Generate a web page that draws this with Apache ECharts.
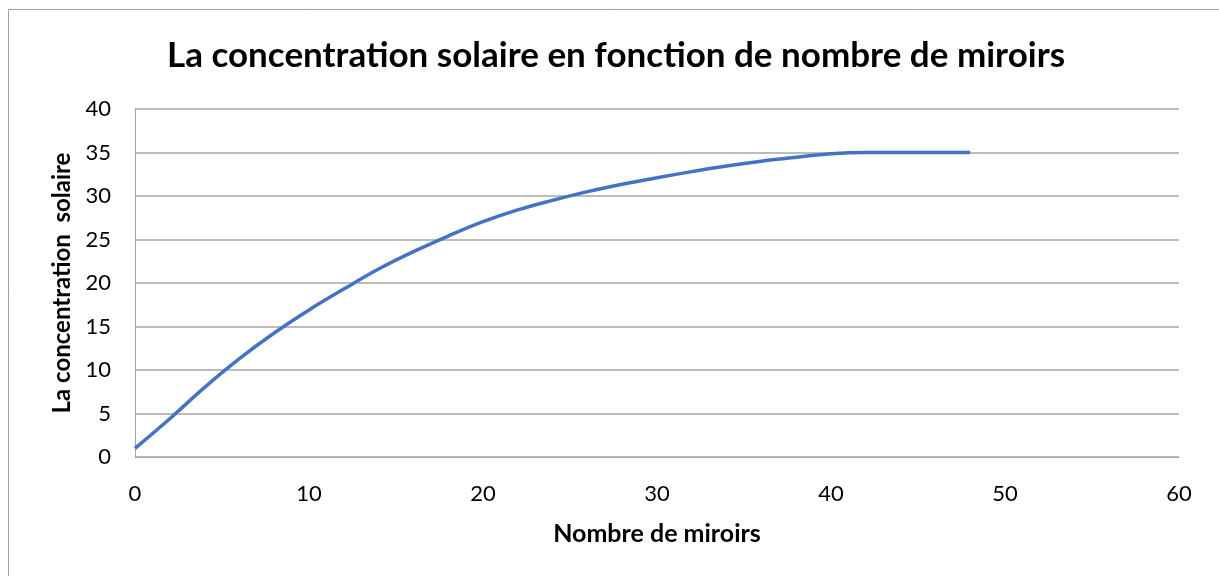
<!DOCTYPE html>
<html>
<head>
<meta charset="utf-8">
<script src="https://cdn.jsdelivr.net/npm/echarts@6/dist/echarts.min.js"></script>
<style>
  html, body { margin: 0; padding: 0; background: #ffffff; }
  #chart { width: 1219px; height: 576px; }
</style>
</head>
<body>
<div id="chart"></div>
<script>
// Nombre de miroirs (x) et concentration solaire (y)
const nombreMiroirs = [0, 2, 4, 6, 8, 10, 12, 14, 16, 18, 20, 22, 24, 26, 28, 30, 32, 34, 36, 38, 40, 42, 43, 44, 46, 48];
const concentration = [1, 4.4, 8.0, 11.3, 14.25, 16.9, 19.3, 21.6, 23.6, 25.4, 27.05, 28.4, 29.5, 30.5, 31.35, 32.1, 32.8, 33.45, 34.0, 34.45, 34.85, 35.0, 35, 35, 35, 35];
const titre = 'La concentration solaire en fonction de nombre de miroirs';
const titreX = 'Nombre de miroirs';
const titreY = 'La concentration  solaire';

const points = nombreMiroirs.map((x, i) => [x, concentration[i]]);

const FONT = 'Lato, "Open Sans", sans-serif';
const GRID_COLOR = '#a6a6a6';

const chart = echarts.init(document.getElementById('chart'), null, { renderer: 'canvas' });
chart.setOption({
  backgroundColor: '#ffffff',
  animation: false,
  title: {
    text: titre,
    left: 616,
    textAlign: 'center',
    top: 38,
    padding: 0,
    textStyle: { fontFamily: FONT, fontWeight: 'bold', fontSize: 35, color: '#000000' }
  },
  graphic: [{
    type: 'rect',
    shape: { x: 8.5, y: 9.5, width: 1300, height: 700 },
    style: { fill: 'none', stroke: '#a0a0a0', lineWidth: 1 },
    silent: true
  }],
  grid: { left: 135, right: 40, top: 109, bottom: 119, containLabel: false },
  xAxis: {
    type: 'value',
    min: 0, max: 60, interval: 10,
    name: titreX,
    nameLocation: 'middle',
    nameGap: 64,
    nameTextStyle: { fontFamily: FONT, fontWeight: 'bold', fontSize: 25, color: '#000000' },
    axisLine: { show: true, lineStyle: { color: GRID_COLOR, width: 1 } },
    axisTick: { show: false },
    splitLine: { show: false },
    axisLabel: { fontFamily: FONT, fontSize: 22, color: '#000000', margin: 26 }
  },
  yAxis: {
    type: 'value',
    min: 0, max: 40, interval: 5,
    name: titreY,
    nameLocation: 'middle',
    nameGap: 58,
    nameTextStyle: { fontFamily: FONT, fontWeight: 'bold', fontSize: 24, color: '#000000' },
    axisLine: { show: true, lineStyle: { color: GRID_COLOR, width: 1 } },
    axisTick: { show: false },
    splitLine: { show: true, lineStyle: { color: GRID_COLOR, width: 1.5 } },
    axisLabel: { fontFamily: FONT, fontSize: 22, color: '#000000', margin: 24 }
  },
  series: [{
    type: 'line',
    data: points,
    smooth: 0.4,
    showSymbol: false,
    lineStyle: { color: '#4472C4', width: 3.5 },
    itemStyle: { color: '#4472C4' }
  }]
});
</script>
</body>
</html>
